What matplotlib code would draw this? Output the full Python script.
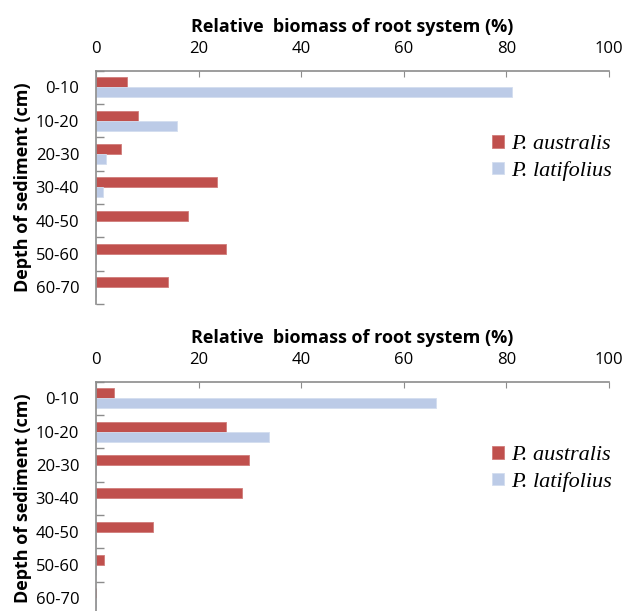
import numpy as np
import matplotlib
matplotlib.use("Agg")
import matplotlib.pyplot as plt

# Depth classes and relative root biomass (%)
depths = ['0-10', '10-20', '20-30', '30-40', '40-50', '50-60', '60-70']

top_australis = [6.1, 8.2, 4.9, 23.5, 17.9, 25.3, 14.0]
top_latifolius = [81.0, 15.7, 1.9, 1.3, 0, 0, 0]

bottom_australis = [3.5, 25.3, 29.9, 28.4, 11.1, 1.6, 0]
bottom_latifolius = [66.2, 33.8, 0, 0, 0, 0, 0]

red = '#C0504D'
blue = '#BCCBE7'
grey = '#8C8C8C'

plt.rcParams['font.family'] = ['Open Sans', 'DejaVu Sans']

fig = plt.figure(figsize=(6.25, 6.11), dpi=100)
ax1 = fig.add_axes([0.1536, 0.5025, 0.8208, 0.3818])
ax2 = fig.add_axes([0.1536, -0.0065, 0.8208, 0.3818])


def draw_panel(ax, aus, lat):
    y = np.arange(len(depths))
    h = 0.3
    ax.barh(y - h / 2, aus, height=h, color=red, edgecolor='#D07C7A',
            linewidth=0.6, label='P. australis')
    ax.barh(y + h / 2, lat, height=h, color=blue, edgecolor='#D3DDEF',
            linewidth=0.6, label='P. latifolius')
    ax.set_xlim(0, 100)
    ax.set_ylim(len(depths) - 0.5, -0.5)
    ax.xaxis.tick_top()
    ax.xaxis.set_label_position('top')
    ax.set_xticks([0, 20, 40, 60, 80, 100])
    ax.tick_params(axis='x', direction='in', length=4, color=grey,
                   labelsize=12, pad=10)
    ax.set_yticks(y)
    ax.set_yticklabels(depths)
    ax.set_yticks(np.arange(len(depths) + 1) - 0.5, minor=True)
    ax.tick_params(axis='y', which='major', length=0, labelsize=12, pad=12)
    ax.tick_params(axis='y', which='minor', direction='in', length=6,
                   color=grey, width=1)
    for s in ['right', 'bottom']:
        ax.spines[s].set_visible(False)
    for s in ['top', 'left']:
        ax.spines[s].set_color(grey)
        ax.spines[s].set_linewidth(1.2)
    ax.set_xlabel('Relative  biomass of root system (%)', fontsize=13,
                  fontweight='bold', labelpad=6)
    ax.set_ylabel('Depth of sediment (cm)', fontsize=13, fontweight='bold',
                  labelpad=3)
    leg = ax.legend(loc='upper right', bbox_to_anchor=(1.045, 0.81),
                    frameon=False, handlelength=0.5, handleheight=0.5,
                    handletextpad=0.35, labelspacing=0.3,
                    prop={'family': 'Liberation Serif', 'style': 'italic',
                          'size': 16})
    return leg


draw_panel(ax1, top_australis, top_latifolius)
draw_panel(ax2, bottom_australis, bottom_latifolius)

fig.savefig('out.png', dpi=100)
